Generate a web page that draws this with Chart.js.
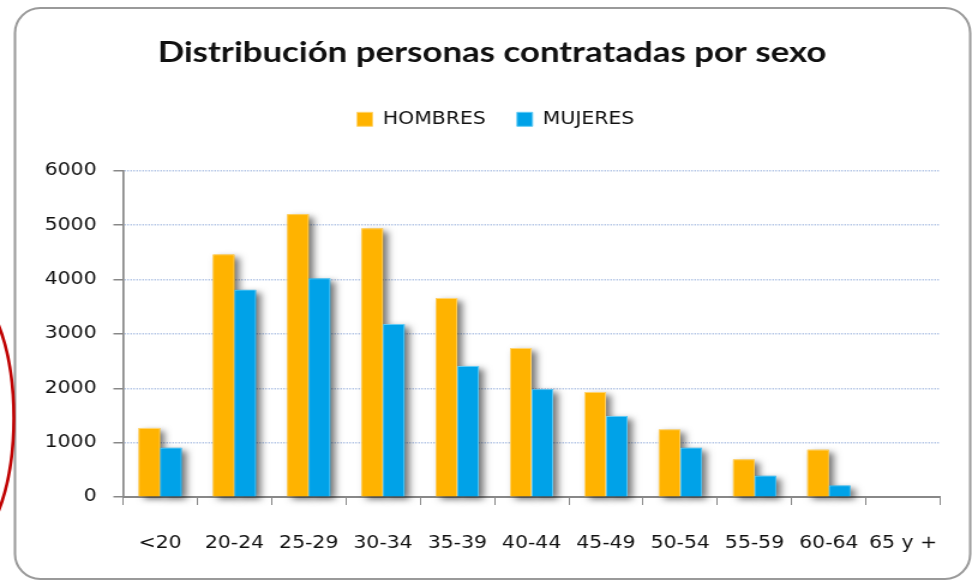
<!DOCTYPE html>
<html><head><meta charset="utf-8">
<script src="https://cdn.jsdelivr.net/npm/chart.js@4.4.1/dist/chart.umd.min.js"></script>
<style>
html,body{margin:0;padding:0;background:#fff;overflow:hidden}
#wrap{position:absolute;left:0;top:0;width:810px;height:584px;transform:scaleX(1.2);transform-origin:0 0}
</style></head><body>
<div id="wrap"><canvas id="c"></canvas></div>
<script>
// Age groups and hires per group, by sex
const categories = ['<20','20-24','25-29','30-34','35-39','40-44','45-49','50-54','55-59','60-64','65 y +'];
const hombres = [1270, 4460, 5200, 4940, 3660, 2740, 1930, 1240, 690, 870, 0];
const mujeres = [905, 3810, 4020, 3180, 2410, 1980, 1490, 905, 390, 210, 0];
const yTicks = [0, 1000, 2000, 3000, 4000, 5000, 6000];

const ORANGE = '#FFB300';
const BLUE = '#00A2E8';
const LABEL_FONT = "'DejaVu Sans', Verdana, sans-serif";

// rounded frame around the whole chart, plus a hand-drawn red ring on the left edge
const framePlugin = {
  id: 'frame',
  beforeDraw(chart) {
    const ctx = chart.ctx;
    ctx.save();
    ctx.fillStyle = '#ffffff';
    ctx.fillRect(0, 0, chart.width, chart.height);
    ctx.beginPath();
    ctx.roundRect(12.5, 8, 796, 571, [{x: 21, y: 25}]);
    ctx.strokeStyle = '#9a9a9a';
    ctx.lineWidth = 2;
    ctx.stroke();
    ctx.restore();
  },
  afterDraw(chart) {
    const ctx = chart.ctx;
    ctx.save();
    ctx.beginPath();
    ctx.ellipse(-38.5, 418, 50, 140, 0, 0, Math.PI * 2);
    ctx.strokeStyle = '#C00000';
    ctx.lineWidth = 2.6;
    ctx.stroke();
    ctx.restore();
  }
};

// title and legend sit a little right of the plot centre and closer to the top edge
const headerPlugin = {
  id: 'headerOffsets',
  afterLayout(chart) {
    const move = (box, dx, dy) => {
      if (!box) return;
      box.left += dx; box.right += dx;
      box.top += dy; box.bottom += dy;
    };
    move(chart.titleBlock, 6, -30);
    move(chart.legend, 9, -33);
  }
};

// soft drop shadow behind every bar
const shadowPlugin = {
  id: 'barShadow',
  beforeDatasetsDraw(chart) {
    const ctx = chart.ctx;
    ctx.save();
    ctx.shadowColor = 'rgba(0,0,0,0.55)';
    ctx.shadowBlur = 6;
    ctx.shadowOffsetX = 4;
    ctx.shadowOffsetY = 3;
    chart.data.datasets.forEach((ds, i) => {
      const meta = chart.getDatasetMeta(i);
      ctx.fillStyle = ds.backgroundColor;
      meta.data.forEach(bar => {
        const {x, y, base, width} = bar.getProps(['x', 'y', 'base', 'width'], true);
        if (base - y < 0.5) return;
        ctx.fillRect(x - width / 2, y, width, base - y);
      });
    });
    ctx.restore();
  }
};

new Chart(document.getElementById('c'), {
  type: 'bar',
  data: {
    labels: categories,
    datasets: [
      {label: 'HOMBRES', data: hombres, backgroundColor: ORANGE, borderColor: '#FFD46E', borderWidth: 1, clip: false},
      {label: 'MUJERES', data: mujeres, backgroundColor: BLUE, borderColor: '#62CBF6', borderWidth: 1, clip: false}
    ]
  },
  options: {
    responsive: true,
    maintainAspectRatio: false,
    animation: false,
    events: [],
    layout: {padding: {left: 20, right: 22, top: 65, bottom: 27}},
    datasets: {bar: {categoryPercentage: 0.58, barPercentage: 1.0}},
    plugins: {
      tooltip: {enabled: false},
      title: {
        display: true,
        text: 'Distribución personas contratadas por sexo',
        color: '#111111',
        font: {family: "Lato, 'Open Sans', sans-serif", size: 29, weight: 'bold'},
        padding: {top: 0, bottom: 18}
      },
      legend: {
        display: true,
        labels: {
          font: {family: LABEL_FONT, size: 17},
          color: '#111111',
          boxWidth: 13,
          boxHeight: 14,
          padding: 26
        }
      }
    },
    scales: {
      x: {
        afterFit(scale) { scale.height = 60; },
        grid: {drawOnChartArea: false, drawTicks: true, tickLength: 8, color: '#888888', tickColor: '#888888', offset: true},
        border: {display: true, color: '#888888', width: 2},
        ticks: {font: {family: LABEL_FONT, size: 17}, color: '#111111', padding: 28, maxRotation: 0, autoSkip: false}
      },
      y: {
        min: 0,
        max: 6000,
        afterFit(scale) { scale.width = 82.5; },
        afterBuildTicks(scale) { scale.ticks = yTicks.map(v => ({value: v})); },
        grid: {
          color: ctx => (ctx.tick && ctx.tick.value === 0) ? 'rgba(0,0,0,0)' : '#A4B9E0',
          lineWidth: 1.5,
          tickLength: 8,
          tickColor: '#888888',
          tickBorderDash: [],
          tickWidth: 1.5
        },
        border: {display: true, color: '#888888', width: 1.7, dash: [1.1, 1.4]},
        ticks: {font: {family: LABEL_FONT, size: 17}, color: '#111111', padding: 14, callback: v => String(v)}
      }
    }
  },
  plugins: [framePlugin, headerPlugin, shadowPlugin]
});
</script>
</body></html>
